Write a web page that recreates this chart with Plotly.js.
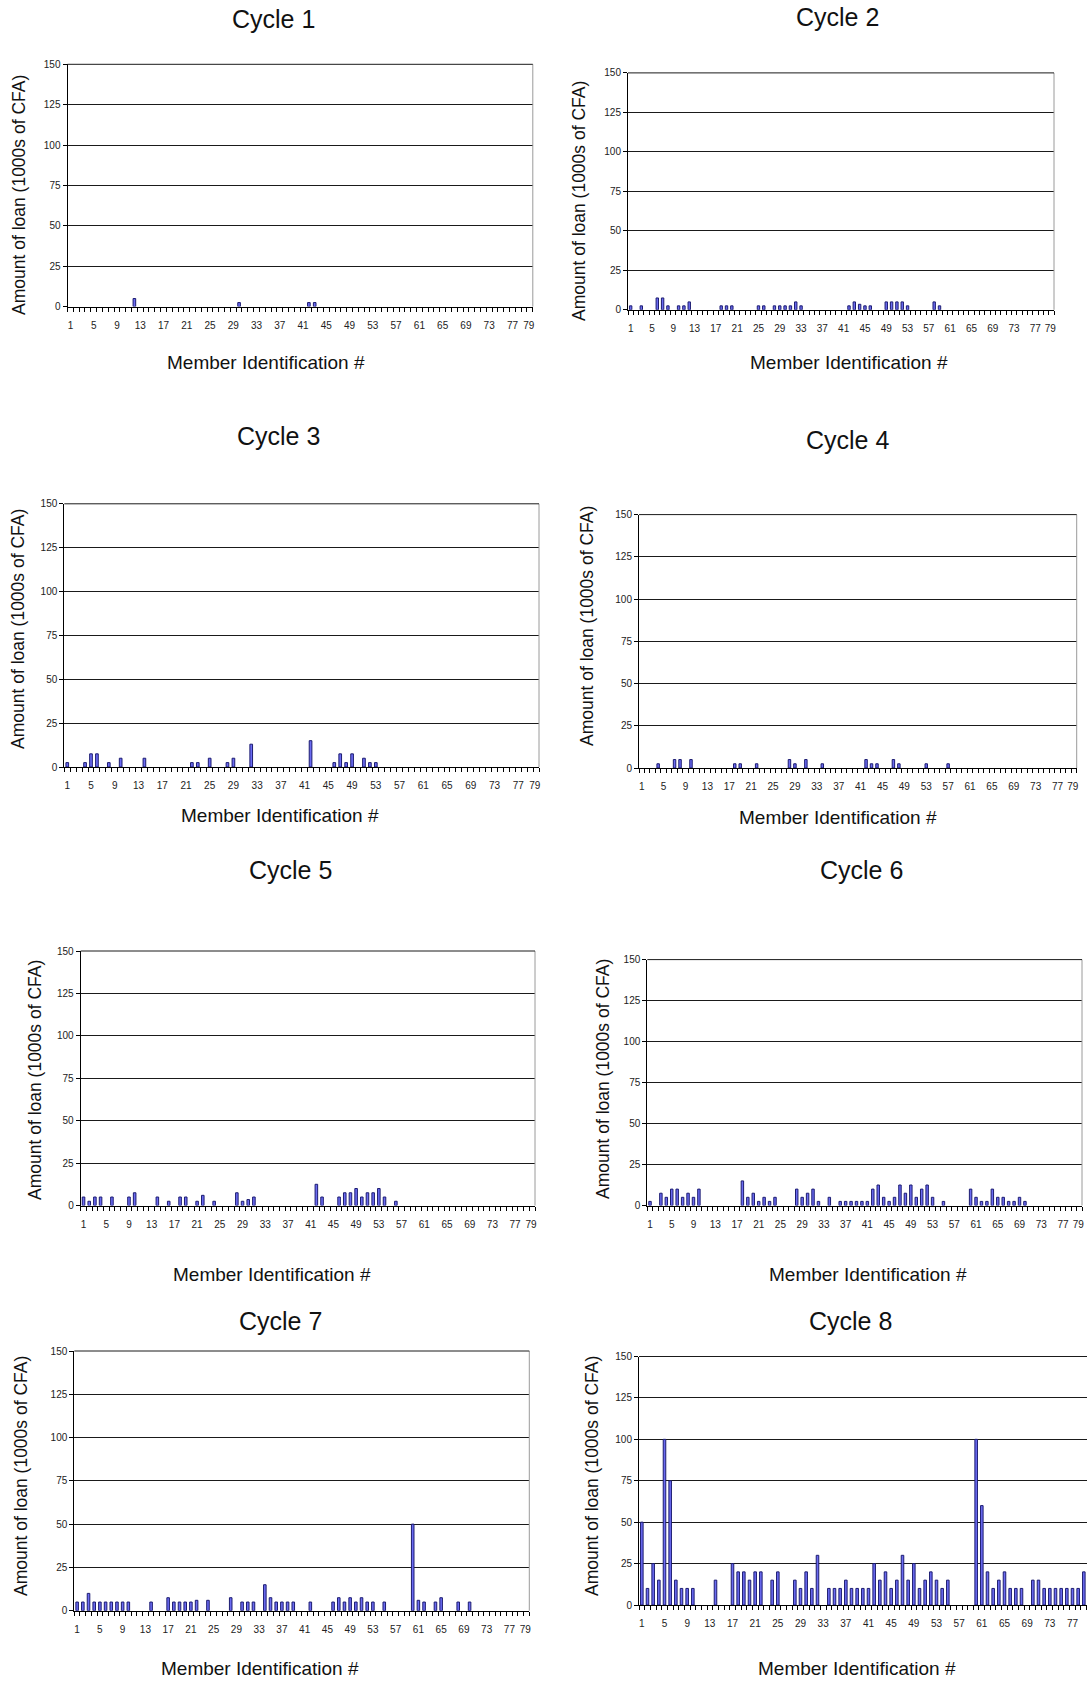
<!DOCTYPE html>
<html>
<head>
<meta charset="utf-8">
<script src="https://cdn.plot.ly/plotly-3.0.1.min.js"></script>
<style>
html,body{margin:0;padding:0;background:#fff;}
#chart{width:1087px;height:1681px;}
</style>
</head>
<body>
<div id="chart"></div>
<script>
// ---------------- DATA ----------------
const cycleTitles = ["Cycle 1","Cycle 2","Cycle 3","Cycle 4","Cycle 5","Cycle 6","Cycle 7","Cycle 8"];
const xAxisTitle = "Member Identification #";
const yAxisTitle = "Amount of loan (1000s of CFA)";
const memberTickLabels = [1,5,9,13,17,21,25,29,33,37,41,45,49,53,57,61,65,69,73,77,79];
const loanTicks = [0,25,50,75,100,125,150];

const cycle1Members = [12,30,42,43];
const cycle1Amounts = [5,2.5,2.5,2.5];

const cycle2Members = [1,3,6,7,8,10,11,12,18,19,20,25,26,28,29,30,31,32,33,42,43,44,45,46,49,50,51,52,53,58,59];
const cycle2Amounts = [2.5,2.5,7.5,7.5,2.5,2.5,2.5,5,2.5,2.5,2.5,2.5,2.5,2.5,2.5,2.5,2.5,5,2.5,2.5,5,3.5,2.5,2.5,5,5,5,5,2.5,5,2.5];

const cycle3Members = [1,4,5,6,8,10,14,22,23,25,28,29,32,42,46,47,48,49,51,52,53];
const cycle3Amounts = [2.5,2.5,7.5,7.5,2.5,5,5,2.5,2.5,5,2.5,5,13,15,2.5,7.5,2.5,7.5,5,2.5,2.5];

const cycle4Members = [4,7,8,10,18,19,22,28,29,31,34,42,43,44,47,48,53,57];
const cycle4Amounts = [2.5,5,5,5,2.5,2.5,2.5,5,2.5,5,2.5,5,2.5,2.5,5,2.5,2.5,2.5];

const cycle5Members = [1,2,3,4,6,9,10,14,16,18,19,21,22,24,28,29,30,31,42,43,46,47,48,49,50,51,52,53,54,56];
const cycle5Amounts = [5,2.5,5,5,5,5,7.5,5,2.5,5,5,2.5,6,2.5,7.5,2.5,3.5,5,12.5,5,5,7.5,7.5,10,5,7.5,7.5,10,5,2.5];

const cycle6Members = [1,3,4,5,6,7,8,9,10,18,19,20,21,22,23,24,28,29,30,31,32,34,36,37,38,39,40,41,42,43,44,45,46,47,48,49,50,51,52,53,55,60,61,62,63,64,65,66,67,68,69,70];
const cycle6Amounts = [2.5,7.5,5,10,10,5,7.5,5,10,15,5,7.5,2.5,5,2.5,5,10,5,7.5,10,2.5,5,2.5,2.5,2.5,2.5,2.5,2.5,10,12.5,5,2.5,5,12.5,7.5,12.5,5,10,12.5,5,2.5,10,5,2.5,2.5,10,5,5,2.5,2.5,5,2.5];

const cycle7Members = [1,2,3,4,5,6,7,8,9,10,14,17,18,19,20,21,22,24,28,30,31,32,34,35,36,37,38,39,42,46,47,48,49,50,51,52,53,55,60,61,62,64,65,68,70];
const cycle7Amounts = [5,5,10,5,5,5,5,5,5,5,5,7.5,5,5,5,5,6,6,7.5,5,5,5,15,7.5,5,5,5,5,5,5,7.5,5,7.5,5,7.5,5,5,5,50,6,5,5,7.5,5,5];

const cycle8Members = [1,2,3,4,5,6,7,8,9,10,14,17,18,19,20,21,22,24,25,28,29,30,31,32,34,35,36,37,38,39,40,41,42,43,44,45,46,47,48,49,50,51,52,53,54,55,60,61,62,63,64,65,66,67,68,70,71,72,73,74,75,76,77,78,79];
const cycle8Amounts = [50,10,25,15,100,75,15,10,10,10,15,25,20,20,15,20,20,15,20,15,10,20,10,30,10,10,10,15,10,10,10,10,25,15,20,10,15,30,15,25,10,15,20,15,10,15,100,60,20,10,15,20,10,10,10,15,15,10,10,10,10,10,10,10,20];

const allMembers = [cycle1Members,cycle2Members,cycle3Members,cycle4Members,cycle5Members,cycle6Members,cycle7Members,cycle8Members];
const allAmounts = [cycle1Amounts,cycle2Amounts,cycle3Amounts,cycle4Amounts,cycle5Amounts,cycle6Amounts,cycle7Amounts,cycle8Amounts];

// ---------------- LAYOUT (pixel geometry of each panel) ----------------
const W = 1087, H = 1681;
const panels = [
  {x0:67.5, x1:532.8, y0:64.3,  y1:306.6,  xmax:80.5,  t:[273,19],   xl:[266,362],  yl:[19,195]},
  {x0:628,  x1:1054,  y0:72.9,  y1:309.8,  xmax:80.5,  t:[837,17],   xl:[849,362],  yl:[579,201]},
  {x0:64.3, x1:539,   y0:503.8, y1:767,    xmax:80.5,  t:[279,436],  xl:[280,815],  yl:[18,629]},
  {x0:639,  x1:1076.7,y0:514.6, y1:768,    xmax:80.5,  t:[847,440],  xl:[838,817],  yl:[587,626]},
  {x0:80.7, x1:535,   y0:951,   y1:1205.5, xmax:80.5,  t:[290,870],  xl:[272,1274], yl:[35,1080]},
  {x0:647.3,x1:1082,  y0:959.6, y1:1205.5, xmax:80.5,  t:[861,870],  xl:[868,1274], yl:[603,1079]},
  {x0:74.3, x1:529.3, y0:1351,  y1:1610.7, xmax:80.5,  t:[280,1321], xl:[260,1668], yl:[21,1476]},
  {x0:639,  x1:1087,  y0:1356.5,y1:1605,   xmax:79.56, t:[850,1321], xl:[857,1668], yl:[592,1476]}
];

const FONT = "Liberation Sans, Arial, Helvetica, sans-serif";
const fx = v => v / W;
const fy = v => 1 - v / H;
// In the original the last label ("79") is printed at the far right end of the axis
const LAST_LABEL_NUDGE = 0.8;

const traces = [];
const layout = {
  width: W, height: H,
  margin: {l:0, r:0, t:0, b:0},
  paper_bgcolor: "#ffffff",
  plot_bgcolor: "#ffffff",
  showlegend: false,
  font: {family: FONT, color: "#111"},
  annotations: [],
  shapes: []
};

panels.forEach((p, i) => {
  const n = i + 1;
  const xa = n === 1 ? "x" : "x" + n;
  const ya = n === 1 ? "y" : "y" + n;
  const last = memberTickLabels.length - 1;
  const nudge = p.xmax > 80 ? LAST_LABEL_NUDGE : 0;
  traces.push({
    type: "bar",
    x: allMembers[i],
    y: allAmounts[i],
    xaxis: xa, yaxis: ya,
    width: 0.45,
    marker: {color: "#6b6bf2", line: {color: "#1c1c70", width: 1}},
    hoverinfo: "x+y"
  });
  layout["xaxis" + (n === 1 ? "" : n)] = {
    domain: [fx(p.x0), fx(p.x1)],
    anchor: ya,
    range: [0.5, p.xmax],
    tickmode: "array",
    tickvals: memberTickLabels.map((v, j) => j === last ? v + nudge : v),
    ticktext: memberTickLabels.map(String),
    tickangle: 0,
    ticks: "",
    ticklabelstandoff: 9,
    tickfont: {size: 10, color: "#222", family: FONT},
    showline: true, linecolor: "#000", linewidth: 1,
    showgrid: false, zeroline: false,
    minor: {tickmode: "linear", tick0: 0.5, dtick: 1, ticks: "outside", ticklen: 4, tickcolor: "#000", tickwidth: 1},
    fixedrange: true
  };
  layout["yaxis" + (n === 1 ? "" : n)] = {
    domain: [fy(p.y1), fy(p.y0)],
    anchor: xa,
    range: [0, 150],
    tickmode: "array",
    tickvals: loanTicks,
    ticks: "outside", ticklen: 4, tickcolor: "#000",
    tickfont: {size: 10, color: "#222", family: FONT},
    showline: true, linecolor: "#000", linewidth: 1,
    showgrid: true, gridcolor: "#1a1a1a", gridwidth: 1,
    zeroline: false,
    fixedrange: true
  };
  if (p.x1 < W) {
    layout.shapes.push({type:"line", xref:"paper", yref:"paper",
      x0: fx(p.x1), x1: fx(p.x1), y0: fy(p.y1), y1: fy(p.y0),
      line:{color:"#9a9a9a", width:1}});
  }
  layout.shapes.push({type:"line", xref:"paper", yref:"paper",
    x0: fx(p.x0), x1: fx(p.x1), y0: fy(p.y0), y1: fy(p.y0),
    line:{color:"#1a1a1a", width:1}});
  layout.annotations.push({
    text: cycleTitles[i], xref:"paper", yref:"paper",
    x: fx(p.t[0]), y: fy(p.t[1]), xanchor:"center", yanchor:"middle",
    showarrow:false, font:{size:25, color:"#111", family:FONT}
  });
  layout.annotations.push({
    text: xAxisTitle, xref:"paper", yref:"paper",
    x: fx(p.xl[0]), y: fy(p.xl[1]), xanchor:"center", yanchor:"middle",
    showarrow:false, font:{size:19, color:"#111", family:FONT}
  });
  layout.annotations.push({
    text: yAxisTitle, xref:"paper", yref:"paper",
    x: fx(p.yl[0]), y: fy(p.yl[1]), xanchor:"center", yanchor:"middle",
    textangle: -90,
    showarrow:false, font:{size:17.5, color:"#111", family:FONT}
  });
});

Plotly.newPlot("chart", traces, layout, {staticPlot: true, displayModeBar: false});
</script>
</body>
</html>
